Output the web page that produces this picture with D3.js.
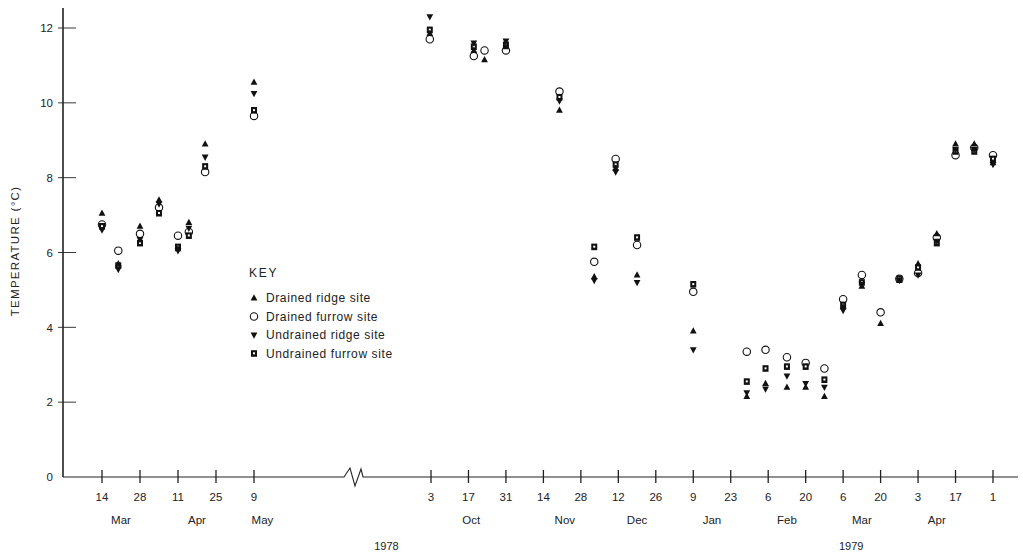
<!DOCTYPE html>
<html>
<head>
<meta charset="utf-8">
<script src="https://cdn.jsdelivr.net/npm/d3@7"></script>
<style>
  body { margin: 0; background: #fff; }
  text { font-family: "Liberation Sans", Arial, sans-serif; fill: #222; }
</style>
</head>
<body>
<svg id="chart" width="1023" height="556"></svg>
<script>
// sampling dates and temperatures (°C) for the four sites
var sampleDates = [
  "1978-03-14", "1978-03-20", "1978-03-28", "1978-04-04", "1978-04-11", "1978-04-15",
  "1978-04-21", "1978-05-09", "1978-10-02", "1978-10-19", "1978-10-23", "1978-10-31",
  "1978-11-20", "1978-12-03", "1978-12-11", "1978-12-19", "1979-01-09", "1979-01-29",
  "1979-02-05", "1979-02-13", "1979-02-20", "1979-02-27", "1979-03-06", "1979-03-13",
  "1979-03-20", "1979-03-27", "1979-04-03", "1979-04-10", "1979-04-17", "1979-04-24",
  "1979-05-01"
];
var drainedRidge = [
  7.05, 5.7, 6.7, 7.4, 6.1, 6.8, 8.9, 10.55, 11.85, 11.4, 11.15, 11.5,
  9.8, 5.35, 8.25, 5.4, 3.9, 2.15, 2.5, 2.4, 2.4, 2.15, 4.55, 5.1,
  4.1, 5.25, 5.7, 6.5, 8.9, 8.9, 8.4
];
var drainedFurrow = [
  6.75, 6.05, 6.5, 7.2, 6.45, 6.55, 8.15, 9.65, 11.7, 11.25, 11.4, 11.4,
  10.3, 5.75, 8.5, 6.2, 4.95, 3.35, 3.4, 3.2, 3.05, 2.9, 4.75, 5.4,
  4.4, 5.3, 5.45, 6.4, 8.6, 8.8, 8.6
];
var undrainedRidge = [
  6.6, 5.55, 6.35, 7.3, 6.05, 6.65, 8.55, 10.25, 12.3, 11.6, null, 11.65,
  10.05, 5.25, 8.15, 5.2, 3.4, 2.25, 2.35, 2.7, 2.5, 2.4, 4.45, 5.15,
  null, 5.25, 5.4, 6.3, 8.75, 8.75, 8.35
];
var undrainedFurrow = [
  6.7, 5.65, 6.25, 7.05, 6.15, 6.45, 8.3, 9.8, 11.95, 11.5, null, 11.55,
  10.15, 6.15, 8.35, 6.4, 5.15, 2.55, 2.9, 2.95, 2.95, 2.6, 4.6, 5.2,
  null, 5.3, 5.6, 6.25, 8.7, 8.7, 8.5
];

var tickDates = [
  "1978-03-14", "1978-03-28", "1978-04-11", "1978-04-25", "1978-05-09",
  "1978-10-03", "1978-10-17", "1978-10-31", "1978-11-14", "1978-11-28", "1978-12-12",
  "1978-12-26", "1979-01-09", "1979-01-23", "1979-02-06", "1979-02-20", "1979-03-06",
  "1979-03-20", "1979-04-03", "1979-04-17", "1979-05-01"
];
var monthLabels = ["Mar", "Apr", "May", "Oct", "Nov", "Dec", "Jan", "Feb", "Mar", "Apr"];
var monthDates = [
  "1978-03-21", "1978-04-18", "1978-05-16", "1978-10-18", "1978-11-22", "1978-12-19",
  "1979-01-16", "1979-02-13", "1979-03-13", "1979-04-10"
];
var yearLabels = ["1978", "1979"];
var yearDates = ["1978-08-27", "1979-03-09"];
var yTicks = [0, 2, 4, 6, 8, 10, 12];

var seriesNames = ["Drained ridge site", "Drained furrow site", "Undrained ridge site", "Undrained furrow site"];
var seriesValues = [drainedRidge, drainedFurrow, undrainedRidge, undrainedFurrow];

var parse = d3.timeParse("%Y-%m-%d");
var svg = d3.select("#chart");

// broken time axis: the gap between May and October is squeezed
var x = d3.scaleTime()
  .domain([parse("1978-03-14"), parse("1978-05-09"), parse("1978-10-03"), parse("1979-05-01")])
  .range([102, 254, 431, 993]);

var y = d3.scaleLinear().domain([0, 12]).range([477, 28]);

var axisColor = "#222";

// y axis
svg.append("line")
  .attr("x1", 63).attr("x2", 63)
  .attr("y1", y(0)).attr("y2", 8)
  .attr("stroke", axisColor).attr("stroke-width", 1.6);

var yAxis = d3.axisLeft(y).tickValues(yTicks).tickSize(0).tickPadding(0).tickFormat(d3.format("d"));
var gy = svg.append("g").attr("transform", "translate(53,0)").call(yAxis);
gy.select(".domain").remove();
gy.selectAll("text").attr("font-size", 11.5).style("font-family", "Liberation Sans, Arial, sans-serif").attr("fill", "#222");

svg.selectAll(".ytick")
  .data(yTicks.filter(function (d) { return d > 0; }))
  .enter().append("line")
  .attr("x1", 58).attr("x2", 76)
  .attr("y1", function (d) { return y(d); })
  .attr("y2", function (d) { return y(d); })
  .attr("stroke", axisColor).attr("stroke-width", 0.9);

svg.append("text")
  .attr("transform", "translate(19,251) rotate(-90)")
  .attr("text-anchor", "middle")
  .attr("font-size", 11.5)
  .attr("letter-spacing", 1.3)
  .text("TEMPERATURE (°C)");

// x axis line with break symbol
svg.append("path")
  .attr("d", "M63," + y(0) + "H344L350,468L355,486L361,469L363," + y(0) + "H1018")
  .attr("fill", "none")
  .attr("stroke", axisColor).attr("stroke-width", 1.1);

svg.selectAll(".xtick")
  .data(tickDates)
  .enter().append("line")
  .attr("x1", function (d) { return x(parse(d)); })
  .attr("x2", function (d) { return x(parse(d)); })
  .attr("y1", 470).attr("y2", 483)
  .attr("stroke", axisColor).attr("stroke-width", 1.3);

svg.selectAll(".xlabel")
  .data(tickDates)
  .enter().append("text")
  .attr("x", function (d) { return x(parse(d)); })
  .attr("y", 501)
  .attr("text-anchor", "middle")
  .attr("font-size", 11.5)
  .text(function (d) { return +d.slice(8); });

svg.selectAll(".month")
  .data(monthDates)
  .enter().append("text")
  .attr("x", function (d) { return x(parse(d)); })
  .attr("y", 524)
  .attr("text-anchor", "middle")
  .attr("font-size", 11.5)
  .text(function (d, i) { return monthLabels[i]; });

svg.selectAll(".year")
  .data(yearDates)
  .enter().append("text")
  .attr("x", function (d) { return x(parse(d)); })
  .attr("y", 550)
  .attr("text-anchor", "middle")
  .attr("font-size", 11)
  .text(function (d, i) { return yearLabels[i]; });

// symbols
function drawSymbol(g, k) {
  if (k === 0) {
    g.append("path").attr("d", "M0,-3.8L3.4,2.5H-3.4Z").attr("fill", "#111");
  } else if (k === 1) {
    g.append("circle").attr("r", 3.7).attr("fill", "#fff").attr("stroke", "#111").attr("stroke-width", 1.1);
  } else if (k === 2) {
    g.append("path").attr("d", "M0,3.8L3.4,-2.5H-3.4Z").attr("fill", "#111");
  } else {
    g.append("rect").attr("x", -3).attr("y", -3.3).attr("width", 6).attr("height", 6.6).attr("fill", "#111");
    g.append("rect").attr("x", -1).attr("y", -1.2).attr("width", 2).attr("height", 2).attr("fill", "#fff");
  }
}

var drawOrder = [1, 3, 2, 0];
drawOrder.forEach(function (k) {
  var vals = seriesValues[k];
  sampleDates.forEach(function (d, i) {
    if (vals[i] == null) return;
    var g = svg.append("g")
      .attr("transform", "translate(" + x(parse(d)) + "," + y(vals[i]) + ")");
    drawSymbol(g, k);
  });
});

// key
svg.append("text")
  .attr("x", 249).attr("y", 277)
  .attr("font-size", 12)
  .attr("letter-spacing", 1.8)
  .text("KEY");

var legendRows = [298, 316.5, 335, 353.5];
seriesNames.forEach(function (name, k) {
  var g = svg.append("g").attr("transform", "translate(254," + legendRows[k] + ")");
  drawSymbol(g, k);
  svg.append("text")
    .attr("x", 266).attr("y", legendRows[k] + 4)
    .attr("font-size", 12)
    .attr("letter-spacing", 0.6)
    .text(name);
});
</script>
</body>
</html>
